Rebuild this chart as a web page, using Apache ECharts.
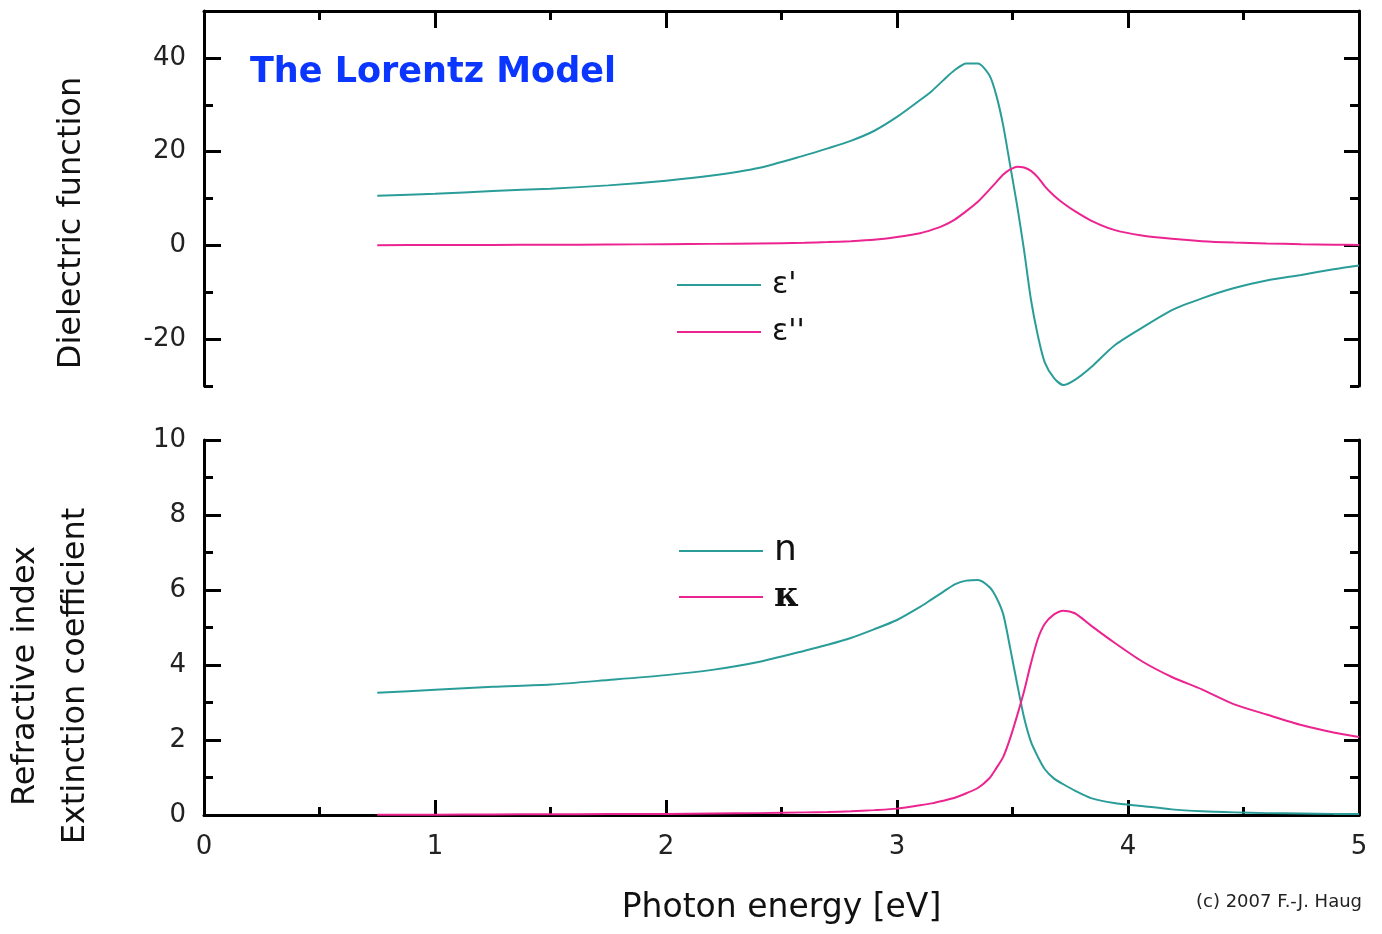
<!DOCTYPE html>
<html><head><meta charset="utf-8">
<script src="https://cdn.jsdelivr.net/npm/echarts@6/dist/echarts.min.js"></script>
<style>html,body{margin:0;padding:0;background:#fff}#c{width:1382px;height:934px}</style>
</head><body><div id="c"></div>
<script>
// Photon energy [eV]
const energy = [0.75,1.0,1.25,1.5,1.75,2.0,2.2,2.4,2.6,2.7,2.8,2.9,3.0,3.1,3.15,3.2,3.25,3.3,3.35,3.4,3.43,3.46,3.49,3.52,3.55,3.58,3.61,3.64,3.68,3.72,3.77,3.84,3.94,4.06,4.19,4.32,4.46,4.6,4.75,4.89,5.0];
// dielectric function, real part
const eps1 = [10.6,11.0,11.6,12.1,12.8,13.8,14.9,16.5,19.2,20.7,22.3,24.4,27.4,31.0,32.9,35.2,37.4,38.8,38.8,36.3,32.0,25.5,17.0,8.5,-1.0,-11.6,-19.3,-25.0,-28.3,-29.8,-28.7,-26.0,-21.4,-17.6,-13.8,-11.3,-9.1,-7.5,-6.3,-5.1,-4.3];
// dielectric function, imaginary part
const eps2 = [0.05,0.07,0.1,0.13,0.18,0.25,0.32,0.42,0.55,0.7,0.9,1.2,1.8,2.6,3.3,4.2,5.5,7.3,9.3,11.9,13.5,15.1,16.2,16.8,16.6,15.9,14.5,12.6,10.6,9.0,7.3,5.3,3.3,2.1,1.4,0.9,0.6,0.4,0.25,0.15,0.1];
// refractive index
const nIdx = [3.26,3.34,3.42,3.48,3.6,3.73,3.87,4.08,4.38,4.54,4.72,4.95,5.2,5.55,5.75,5.95,6.15,6.25,6.27,6.08,5.8,5.35,4.45,3.5,2.6,1.95,1.55,1.22,0.97,0.82,0.65,0.45,0.32,0.24,0.15,0.1,0.07,0.05,0.04,0.03,0.03];
// extinction coefficient
const kappa = [0.01,0.01,0.015,0.02,0.025,0.03,0.04,0.05,0.07,0.08,0.1,0.13,0.17,0.26,0.31,0.38,0.46,0.58,0.72,0.98,1.25,1.55,2.05,2.65,3.3,4.05,4.7,5.1,5.35,5.45,5.38,5.05,4.6,4.1,3.68,3.35,2.95,2.68,2.4,2.2,2.08];
// tick values
const topMajorTicks = [-20,0,20,40];
const topMinorTicks = [-30,-10,10,30,50];
const legendTop = ["ε'", "ε''"];
const legendBottom = ["n", "κ"];

const TEAL = '#2a9d99', PINK = '#ec2490';
const FONT = 'DejaVu Sans';
const pair = a => energy.map((e,i)=>[e,a[i]]);

const chart = echarts.init(document.getElementById('c'), null, {renderer:'canvas'});
function yAx(grid, pos, extra){
  return Object.assign({
    type:'value', gridIndex:grid, position:pos,
    axisLine:{show:true, onZero:false, lineStyle:{color:'#000',width:3}},
    axisTick:{show:true, inside:true, length:9, lineStyle:{color:'#000',width:3}},
    axisLabel:{show:false},
    splitLine:{show:false}
  }, extra);
}
const option = {
  animation:false,
  backgroundColor:'#fff',
  title:[
    {text:'The Lorentz Model', left:250, top:55, padding:0,
     textStyle:{fontFamily:FONT, fontWeight:'bold', fontSize:35, color:'#0a36ff'}},
    {text:'(c) 2007 F.-J. Haug', right:20, top:893, padding:0,
     textStyle:{fontFamily:FONT, fontWeight:'normal', fontSize:18, color:'#222'}}
  ],
  graphic:[
    {type:'text', x:72, y:223, rotation:Math.PI/2,
     style:{text:'Dielectric function', fontFamily:FONT, fontSize:32, fill:'#111', align:'center', verticalAlign:'middle'}},
    {type:'text', x:26, y:676, rotation:Math.PI/2,
     style:{text:'Refractive index', fontFamily:FONT, fontSize:32, fill:'#111', align:'center', verticalAlign:'middle'}},
    {type:'text', x:76, y:676, rotation:Math.PI/2,
     style:{text:'Extinction coefficient', fontFamily:FONT, fontSize:32, fill:'#111', align:'center', verticalAlign:'middle'}}
  ],
  legend:[
    {data:legendTop, orient:'vertical', left:677, top:270, padding:0,
     icon:'rect', itemWidth:84, itemHeight:2, itemGap:17, selectedMode:false,
     textStyle:{fontFamily:FONT, fontSize:30, color:'#111', padding:[0,0,0,6]}},
    {data:legendBottom, orient:'vertical', left:679, top:533, padding:0,
     icon:'rect', itemWidth:84, itemHeight:2, itemGap:11, selectedMode:false,
     formatter: name => name==='κ' ? '{s|κ}' : '{d|'+name+'}',
     textStyle:{fontFamily:FONT, fontSize:36, color:'#111', padding:[0,0,0,6],
       rich:{d:{fontFamily:FONT, fontSize:36, color:'#111'}, s:{fontFamily:'DejaVu Serif', fontSize:34, fontWeight:'bold', color:'#111'}}}}
  ],
  grid:[
    {left:204, right:23, top:11, height:375},
    {left:204, right:23, top:440, height:375}
  ],
  xAxis:[
    {type:'value', gridIndex:0, position:'top', min:0, max:5, interval:1,
     axisLine:{show:true, onZero:false, lineStyle:{color:'#000',width:3}},
     axisTick:{show:true, inside:true, length:17, lineStyle:{color:'#000',width:3}},
     minorTick:{show:true, splitNumber:2, length:9, lineStyle:{color:'#000',width:3}},
     axisLabel:{show:false}, splitLine:{show:false}, minorSplitLine:{show:false}},
    {type:'value', gridIndex:1, position:'bottom', min:0, max:5, interval:1,
     axisLine:{show:true, onZero:false, lineStyle:{color:'#000',width:3}},
     axisTick:{show:true, inside:true, length:15, lineStyle:{color:'#000',width:3}},
     minorTick:{show:true, splitNumber:2, length:8, lineStyle:{color:'#000',width:3}},
     axisLabel:{show:true, margin:19, fontFamily:FONT, fontSize:26, color:'#222'},
     splitLine:{show:false}, minorSplitLine:{show:false},
     name:'Photon energy [eV]', nameLocation:'middle', nameGap:77,
     nameTextStyle:{fontFamily:FONT, fontSize:33, color:'#111'}}
  ],
  yAxis:[
    // top panel, left
    yAx(0,'left',{min:-30,max:50,interval:10,
      axisTick:{show:true, inside:true, length:9, customValues:topMinorTicks, lineStyle:{color:'#000',width:3}},
      axisLabel:{show:true, margin:18, fontFamily:FONT, fontSize:26, color:'#222', customValues:topMajorTicks}}),
    yAx(0,'left',{min:-30,max:50,interval:10, axisLine:{show:false, onZero:false},
      axisTick:{show:true, inside:true, length:17, customValues:topMajorTicks, lineStyle:{color:'#000',width:3}}}),
    // top panel, right
    yAx(0,'right',{min:-30,max:50,interval:10,
      axisTick:{show:true, inside:true, length:9, customValues:topMinorTicks, lineStyle:{color:'#000',width:3}}}),
    yAx(0,'right',{min:-30,max:50,interval:10, axisLine:{show:false, onZero:false},
      axisTick:{show:true, inside:true, length:15, customValues:topMajorTicks, lineStyle:{color:'#000',width:3}}}),
    // bottom panel, left
    yAx(1,'left',{min:0,max:10,interval:2,
      axisTick:{show:true, inside:true, length:17, lineStyle:{color:'#000',width:3}},
      minorTick:{show:true, splitNumber:2, length:9, lineStyle:{color:'#000',width:3}},
      minorSplitLine:{show:false},
      axisLabel:{show:true, margin:18, fontFamily:FONT, fontSize:26, color:'#222'}}),
    // bottom panel, right
    yAx(1,'right',{min:0,max:10,interval:2,
      axisTick:{show:true, inside:true, length:15, lineStyle:{color:'#000',width:3}},
      minorTick:{show:true, splitNumber:2, length:9, lineStyle:{color:'#000',width:3}},
      minorSplitLine:{show:false}})
  ],
  series:[
    {name:"ε'", type:'line', xAxisIndex:0, yAxisIndex:0, data:pair(eps1), showSymbol:false, symbol:'none', smooth:0.25,
     itemStyle:{color:TEAL}, lineStyle:{color:TEAL,width:2}},
    {name:"ε''", type:'line', xAxisIndex:0, yAxisIndex:0, data:pair(eps2), showSymbol:false, symbol:'none', smooth:0.25,
     itemStyle:{color:PINK}, lineStyle:{color:PINK,width:2}},
    {name:'n', type:'line', xAxisIndex:1, yAxisIndex:4, data:pair(nIdx), showSymbol:false, symbol:'none', smooth:0.25,
     itemStyle:{color:TEAL}, lineStyle:{color:TEAL,width:2}},
    {name:'κ', type:'line', xAxisIndex:1, yAxisIndex:4, data:pair(kappa), showSymbol:false, symbol:'none', smooth:0.25,
     itemStyle:{color:PINK}, lineStyle:{color:PINK,width:2}}
  ]
};
chart.setOption(option);
</script>
</body></html>
